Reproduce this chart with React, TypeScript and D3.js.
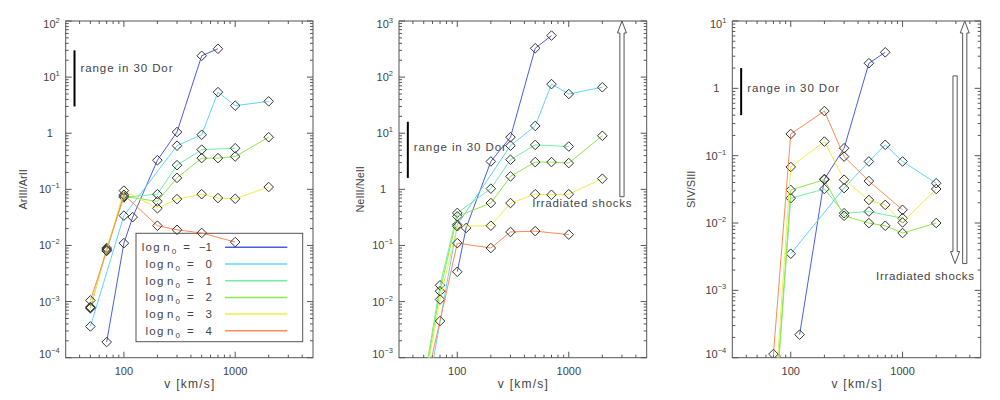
import React from 'react';
import * as d3 from 'd3';

// velocities (km/s)
const V = [50, 70, 100, 120, 200, 300, 500, 700, 1000, 2000];
const LEGEND_LABELS = ['\u22121', '0', '1', '2', '3', '4'];
const COLORS = ['#4a5ce6', '#5ed6f4', '#72eea2', '#90e64c', '#eeee4c', '#ff8a58'];

// ArIII/ArII
const AR_M1 = [null, 1.9e-4, 0.011, 0.032, 0.33, 1.05, 24, 32, null, null];
const AR_0 = [3.6e-4, null, 0.034, null, null, 0.6, 0.94, 5.4, 3.1, 3.7];
const AR_1 = [7.8e-4, 9.0e-3, 0.072, null, 0.082, 0.27, 0.51, null, 0.54, null];
const AR_2 = [7.6e-4, 8.6e-3, 0.075, null, 0.061, 0.16, 0.36, 0.36, 0.385, 0.85];
const AR_3 = [8.0e-4, 8.2e-3, 0.095, null, 0.046, 0.067, 0.082, 0.07, 0.068, 0.11];
const AR_4 = [1.05e-3, 8.0e-3, 0.08, null, 0.0225, 0.019, 0.0167, null, 0.0115, null];

// NeIII/NeII
const NE_M1 = [null, null, 0.034, 0.205, 3.14, 8.5, 327, 550, null, null];
const NE_0 = [1.0e-4, null, 0.234, null, null, 6.0, 13.5, 75, 50, 66];
const NE_1 = [3.5e-4, 0.0195, 0.38, null, 1.03, 3.37, 6.2, null, 5.8, null];
const NE_2 = [3.0e-4, 0.0153, 0.33, null, 0.57, 1.7, 3.06, 3.06, 2.94, 9.0];
const NE_3 = [2.8e-4, 0.0109, 0.22, null, 0.225, 0.57, 0.82, 0.8, 0.82, 1.55];
const NE_4 = [2.4e-4, 4.5e-3, 0.11, null, 0.09, 0.174, 0.18, null, 0.156, null];

// SIV/SIII
const S_M1 = [null, null, null, 2.2e-4, 0.045, 0.129, 2.36, 3.43, null, null];
const S_0 = [null, null, 0.0035, null, null, 0.033, 0.082, 0.145, 0.082, 0.039];
const S_1 = [null, 7e-6, 0.0234, null, 0.032, 0.014, 0.0148, null, 0.0118, null];
const S_2 = [null, 8e-6, 0.031, null, 0.044, 0.0128, 0.00996, 0.0091, 0.0071, 0.01];
const S_3 = [null, 1.2e-5, 0.068, null, 0.162, 0.044, 0.022, 0.0186, 0.0102, 0.032];
const S_4 = [null, 1.13e-4, 0.21, null, 0.46, 0.097, 0.042, null, 0.0157, null];

// 30 Dor observed ranges [low, high]
const RANGE_AR = [3.0, 30];
const RANGE_NE = [1.6, 16];
const RANGE_S = [0.4, 2.0];
const RANGE_V = 36;

const X_DOMAIN = [30, 5000];
const TOP = 21;
const BOTTOM = 357.7;
const AXIS = '#555';
const TXT = '#444';
const FONT = "'Liberation Sans', Arial, sans-serif";

type Panel = {
  left: number; right: number; yDomain: [number, number]; title: string; titleX: number;
  series: (number | null)[][]; range: number[]; rangeLabelAt: number;
  legend?: boolean;
  arrows?: { v: number; from: number; to: number }[];
  irr?: { v0: number; v1: number; at: number };
};

const PANELS: Panel[] = [
  { left: 65.7, right: 313, yDomain: [1e-4, 1e2], title: 'ArIII/ArII', titleX: 27,
    series: [AR_M1, AR_0, AR_1, AR_2, AR_3, AR_4], range: RANGE_AR, rangeLabelAt: 14.6, legend: true },
  { left: 399, right: 646.7, yDomain: [1e-3, 1e3], title: 'NeIII/NeII', titleX: 364,
    series: [NE_M1, NE_0, NE_1, NE_2, NE_3, NE_4], range: RANGE_NE, rangeLabelAt: 5.8,
    arrows: [{ v: 3000, from: 0.74, to: 1e3 }],
    irr: { v0: 470, v1: 3650, at: 0.58 } },
  { left: 732.3, right: 980.7, yDomain: [1e-4, 1e1], title: 'SIV/SIII', titleX: 695,
    series: [S_M1, S_0, S_1, S_2, S_3, S_4], range: RANGE_S, rangeLabelAt: 1.0,
    arrows: [{ v: 3600, from: 2.5e-3, to: 10 }, { v: 2950, from: 1.53, to: 2.5e-3 }],
    irr: { v0: 580, v1: 4350, at: 1.66e-3 } },
];

function diamond(x: number, y: number, r = 4.8) {
  return `M${x},${y - r}L${x + r},${y}L${x},${y + r}L${x - r},${y}Z`;
}

function arrowPath(x: number, y0: number, y1: number) {
  const dir = y1 < y0 ? -1 : 1;
  const sw = 2.1, hw = 4.5, hh = 12;
  const yb = y1 - dir * hh;
  return `M${x - sw},${y0}L${x - sw},${yb}L${x - hw},${yb}L${x},${y1}L${x + hw},${yb}L${x + sw},${yb}L${x + sw},${y0}Z`;
}

function YLabel({ k, x, y, top, bottom }: { k: number; x: number; y: number; top: boolean; bottom: boolean }) {
  const base = top ? y + 7 : bottom ? y : y + 4;
  if (k === 0) {
    return <text x={x - 16} y={base} textAnchor="middle" fontSize={11} fill={TXT}>1</text>;
  }
  const exp = k < 0 ? `\u2212${-k}` : `${k}`;
  return (
    <text x={x - 6} y={base} textAnchor="end" fontSize={11} fill={TXT}>
      10<tspan fontSize={7.5} dy={-5}>{exp}</tspan>
    </text>
  );
}

function PanelView({ p, idx }: { p: Panel; idx: number }) {
  const x = d3.scaleLog().domain(X_DOMAIN).range([p.left, p.right]);
  const y = d3.scaleLog().domain(p.yDomain).range([BOTTOM, TOP]);
  const line = d3.line<[number, number]>().x(d => x(d[0])).y(d => y(d[1]));
  const clipId = `clip${idx}`;

  const xMajor = [100, 1000];
  const xMinor: number[] = [];
  [10, 100, 1000].forEach(d => { for (let m = 2; m <= 9; m++) { const v = m * d; if (v > X_DOMAIN[0] && v < X_DOMAIN[1]) xMinor.push(v); } });
  const k0 = Math.round(Math.log10(p.yDomain[0]));
  const k1 = Math.round(Math.log10(p.yDomain[1]));
  const yMajor = d3.range(k0, k1 + 1);
  const yMinor: number[] = [];
  for (let k = k0; k < k1; k++) for (let m = 2; m <= 9; m++) yMinor.push(m * Math.pow(10, k));

  const cx = (p.left + p.right) / 2;
  const cy = (TOP + BOTTOM) / 2;
  const bx = x(RANGE_V);

  return (
    <g fontFamily={FONT}>
      <defs>
        <clipPath id={clipId}><rect x={p.left} y={TOP} width={p.right - p.left} height={BOTTOM - TOP} /></clipPath>
      </defs>
      {xMajor.map(v => (
        <g key={'xM' + v} stroke={AXIS}>
          <line x1={x(v)} x2={x(v)} y1={BOTTOM} y2={BOTTOM - 6} />
          <line x1={x(v)} x2={x(v)} y1={TOP} y2={TOP + 6} />
        </g>
      ))}
      {xMinor.map(v => (
        <g key={'xm' + v} stroke={AXIS}>
          <line x1={x(v)} x2={x(v)} y1={BOTTOM} y2={BOTTOM - 3} />
          <line x1={x(v)} x2={x(v)} y1={TOP} y2={TOP + 3} />
        </g>
      ))}
      {yMajor.map(k => (
        <g key={'yM' + k} stroke={AXIS}>
          <line x1={p.left} x2={p.left + 6} y1={y(Math.pow(10, k))} y2={y(Math.pow(10, k))} />
          <line x1={p.right} x2={p.right - 6} y1={y(Math.pow(10, k))} y2={y(Math.pow(10, k))} />
        </g>
      ))}
      {yMinor.map(v => (
        <g key={'ym' + v} stroke={AXIS}>
          <line x1={p.left} x2={p.left + 3} y1={y(v)} y2={y(v)} />
          <line x1={p.right} x2={p.right - 3} y1={y(v)} y2={y(v)} />
        </g>
      ))}
      <rect x={p.left} y={TOP} width={p.right - p.left} height={BOTTOM - TOP} fill="none" stroke={AXIS} strokeWidth={1} />
      {xMajor.map(v => (
        <text key={'xl' + v} x={x(v)} y={375} textAnchor="middle" fontSize={11} fill={TXT}>{v}</text>
      ))}
      {yMajor.map(k => (
        <YLabel key={'yl' + k} k={k} x={p.left} y={y(Math.pow(10, k))} top={k === k1} bottom={k === k0} />
      ))}
      <text x={cx} y={388} textAnchor="middle" fontSize={12} fill={TXT} textLength={50} lengthAdjust="spacing">v [km/s]</text>
      <text transform={`translate(${p.titleX},${cy}) rotate(-90)`} textAnchor="middle" fontSize={11} fill={TXT}>{p.title}</text>

      <line x1={bx} x2={bx} y1={y(p.range[0])} y2={y(p.range[1])} stroke="#000" strokeWidth={2} />
      <text x={bx + 6} y={y(p.rangeLabelAt) + 4} fontSize={11.5} fill={TXT} textLength={92} lengthAdjust="spacing">range in 30 Dor</text>

      {(p.arrows || []).map((a, i) => (
        <path key={'ar' + i} d={arrowPath(x(a.v), y(a.from), y(a.to))} fill="#fff" stroke={AXIS} strokeWidth={1} />
      ))}
      {p.irr && (
        <text x={x(p.irr.v0)} y={y(p.irr.at) + 4} fontSize={11.5} fill={TXT}
          textLength={x(p.irr.v1) - x(p.irr.v0)} lengthAdjust="spacing">Irradiated shocks</text>
      )}

      {p.legend && (
        <g fontSize={11.5} fill={TXT}>
          <rect x={136} y={233.3} width={166.7} height={108.4} fill="none" stroke={AXIS} strokeWidth={1} />
          {LEGEND_LABELS.map((lab, i) => {
            const ry = 247.3 + i * 16.7;
            const dx = i === 0 ? 0 : 3.7;
            return (
              <g key={'lg' + i}>
                <text x={141.7 + dx} y={ry + 4} textLength={18} lengthAdjust="spacing">log</text>
                <text x={163.3 + dx} y={ry + 4}>n</text>
                <text x={171.8 + dx} y={ry + 7} fontSize={8}>0</text>
                <text x={183.3 + dx} y={ry + 4}>=</text>
                <text x={212} y={ry + 4} textAnchor="end">{lab}</text>
                <line x1={225} x2={287.3} y1={ry} y2={ry} stroke={COLORS[i]} strokeWidth={1.5} />
              </g>
            );
          })}
        </g>
      )}

      <g clipPath={`url(#${clipId})`}>
        {p.series.map((s, i) => {
          const pts = V.map((v, j) => [v, s[j]] as [number, number | null]).filter(d => d[1] != null) as [number, number][];
          return (
            <g key={'s' + i}>
              <path d={line(pts) || ''} fill="none" stroke={COLORS[i]} strokeWidth={1} />
              {pts.map((d, j) => (
                <path key={j} d={diamond(x(d[0]), y(d[1]))} fill="none" stroke="#333" strokeWidth={1} />
              ))}
            </g>
          );
        })}
      </g>
    </g>
  );
}

export default function App() {
  return (
    <svg width={1000} height={400} style={{ position: 'absolute', left: 0, top: 0, background: '#fff' }}>
      <rect width={1000} height={400} fill="#fff" />
      {PANELS.map((p, i) => <PanelView key={i} p={p} idx={i} />)}
    </svg>
  );
}
